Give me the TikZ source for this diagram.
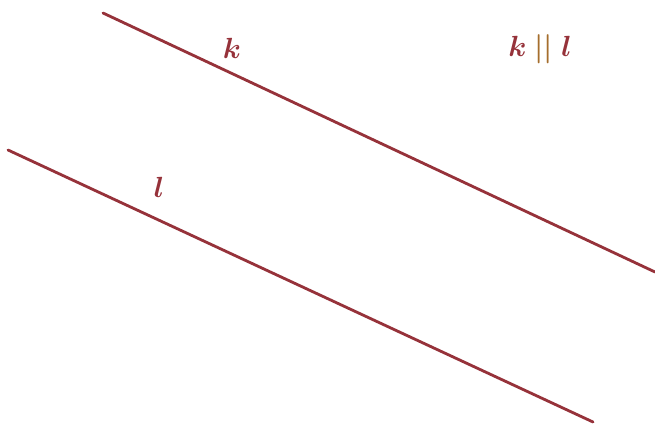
\documentclass[tikz,border=0pt]{standalone}
\usepackage{amsmath,amssymb}
\usepackage{tikz}
\usepackage{xcolor}
\definecolor{linered}{RGB}{150,50,58}
\definecolor{barbrown}{RGB}{165,110,45}

\begin{document}
\begin{tikzpicture}[x=0.03cm,y=-0.03cm]
\tikzset{
  parline/.style={draw=linered,line width=2.4pt,line cap=round},
  linelabel/.style={text=linered,font=\fontsize{24}{28}\selectfont,inner sep=0pt}
}
\useasboundingbox (0,0) rectangle (655,425);
% line k
\coordinate (kA) at (103,13);
\coordinate (kB) at (655,272);
\draw[parline] (kA) -- (kB);
\node[linelabel] (klab) at (232,48) {$\boldsymbol{k}$};
% line l
\coordinate (lA) at (8,150);
\coordinate (lB) at (593,422);
\draw[parline] (lA) -- (lB);
\node[linelabel] (llab) at (159,187) {$\boldsymbol{l}$};
% statement
\node[linelabel] (rel) at (540,49) {$\boldsymbol{k}\;{\color{barbrown}\boldsymbol{||}}\;\boldsymbol{l}$};
\end{tikzpicture}
\end{document}
